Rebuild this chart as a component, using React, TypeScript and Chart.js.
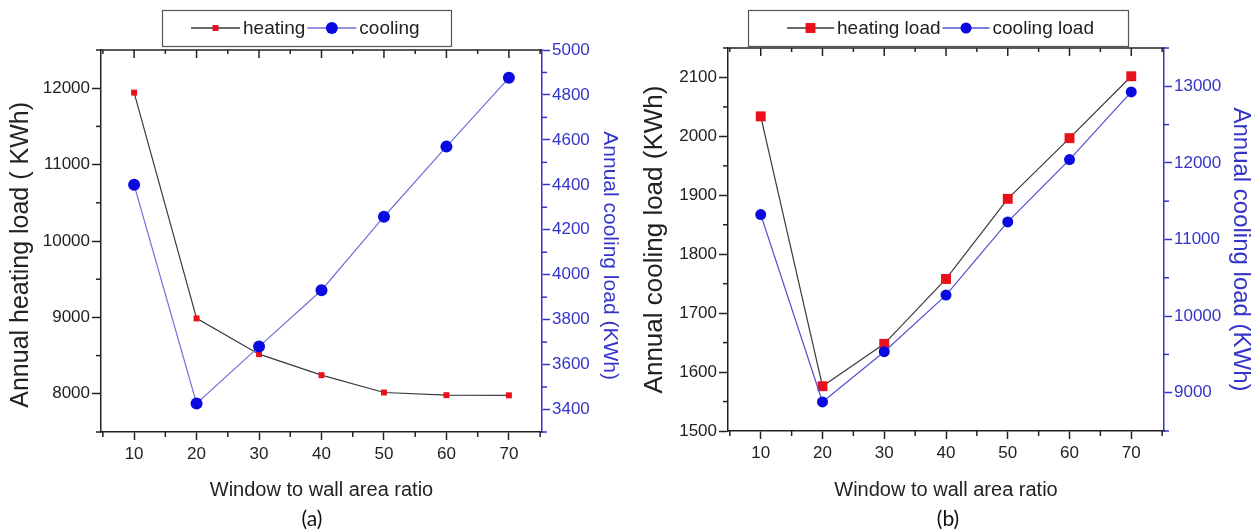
import React, { useEffect, useRef } from 'react';
import { Chart, registerables } from 'chart.js';

Chart.register(...registerables);

// ---------- data ----------
const ratios = [10, 20, 30, 40, 50, 60, 70];

const heatingA = [11942, 8987, 8519, 8244, 8017, 7982, 7980];
const coolingA = [4400, 3427, 3680, 3931, 4258, 4570, 4876];

const heatingB = [2034, 1576, 1648, 1758, 1894, 1997, 2102];
const coolingB = [11326, 8879, 9535, 10274, 11230, 12043, 12926];

const xTicks = [10, 20, 30, 40, 50, 60, 70];
const xMinor = [5, 15, 25, 35, 45, 55, 65, 75];

const leftTicksA = [8000, 9000, 10000, 11000, 12000];
const leftMinorA = [7500, 8500, 9500, 10500, 11500, 12500];
const rightTicksA = [3400, 3600, 3800, 4000, 4200, 4400, 4600, 4800, 5000];
const rightMinorA = [3300, 3500, 3700, 3900, 4100, 4300, 4500, 4700, 4900];

const leftTicksB = [1500, 1600, 1700, 1800, 1900, 2000, 2100];
const leftMinorB = [1550, 1650, 1750, 1850, 1950, 2050, 2150];
const rightTicksB = [9000, 10000, 11000, 12000, 13000];
const rightMinorB = [8500, 9500, 10500, 11500, 12500, 13500];

const FONT = "'Liberation Sans', Arial, Helvetica, sans-serif";
const BLUE_AXIS = '#3434c8';
const DARK = '#222222';

type Panel = {
  heatLabel: string;
  coolLabel: string;
  heat: number[];
  cool: number[];
  leftTitle: string;
  rightTitle: string;
  leftTitleSize: number;
  rightTitleSize: number;
  leftRange: [number, number];
  rightRange: [number, number];
  leftTicks: number[];
  leftMinor: number[];
  rightTicks: number[];
  rightMinor: number[];
  pad: { left: number; right: number; top: number; bottom: number };
  yW: number;
  y2W: number;
  xH: number;
  heatR: number;
  coolR: number;
  coolLine: string;
  legend: { left: number; right: number; top: number; bottom: number; inset: number; lineLen: number };
};

const panels: Panel[] = [
  {
    heatLabel: 'heating',
    coolLabel: 'cooling',
    heat: heatingA,
    cool: coolingA,
    leftTitle: 'Annual heating load ( KWh)    ',
    rightTitle: '     Annual cooling load (KWh)',
    leftTitleSize: 25,
    rightTitleSize: 21,
    leftRange: [7500, 12500],
    rightRange: [3300, 5000],
    leftTicks: leftTicksA,
    leftMinor: leftMinorA,
    rightTicks: rightTicksA,
    rightMinor: rightMinorA,
    pad: { left: 6, right: 8, top: 50, bottom: 29 },
    yW: 95,
    y2W: 80,
    xH: 70,
    heatR: 4.2,
    coolR: 6,
    coolLine: '#7070d8',
    legend: { left: 162, right: 451, top: 10, bottom: 46, inset: 29, lineLen: 49 },
  },
  {
    heatLabel: 'heating load',
    coolLabel: 'cooling load',
    heat: heatingB,
    cool: coolingB,
    leftTitle: 'Annual cooling load (KWh)',
    rightTitle: '   Annual cooling load (KWh)',
    leftTitleSize: 26,
    rightTitleSize: 24,
    leftRange: [1500, 2150],
    rightRange: [8500, 13500],
    leftTicks: leftTicksB,
    leftMinor: leftMinorB,
    rightTicks: rightTicksB,
    rightMinor: rightMinorB,
    pad: { left: 9, right: 5, top: 48, bottom: 29 },
    yW: 89,
    y2W: 91,
    xH: 71,
    heatR: 7,
    coolR: 5.5,
    coolLine: '#5050d0',
    legend: { left: 118, right: 498, top: 10, bottom: 46, inset: 39, lineLen: 47 },
  },
];

// ---------- plugins ----------
const framePlugin = {
  id: 'frame',
  afterDraw(chart: any, _args: any, opts: any) {
    const { ctx, chartArea: ca, scales } = chart;
    const x = scales.x;
    const yl = scales.y;
    const yr = scales.y2;
    ctx.save();
    ctx.lineWidth = 1.5;
    ctx.strokeStyle = DARK;
    const seg = (x1: number, y1: number, x2: number, y2: number) => {
      ctx.beginPath();
      ctx.moveTo(x1, y1);
      ctx.lineTo(x2, y2);
      ctx.stroke();
    };
    // top frame line
    seg(ca.left, ca.top, ca.right, ca.top);
    // top ticks (inward) and minor ticks (outward)
    (opts.xMajor as number[]).forEach((v) => {
      const p = x.getPixelForValue(v);
      seg(p, ca.top, p, ca.top + 8);
    });
    (opts.xMinor as number[]).forEach((v) => {
      const p = x.getPixelForValue(v);
      seg(p, ca.top, p, ca.top + 4);
      seg(p, ca.bottom, p, ca.bottom + 5);
    });
    (opts.leftMinor as number[]).forEach((v) => {
      const p = yl.getPixelForValue(v);
      seg(ca.left, p, ca.left - 5, p);
    });
    ctx.strokeStyle = BLUE_AXIS;
    (opts.rightMinor as number[]).forEach((v) => {
      const p = yr.getPixelForValue(v);
      seg(ca.right, p, ca.right + 5, p);
    });
    ctx.restore();
  },
};

const legendPlugin = {
  id: 'boxLegend',
  afterDraw(chart: any, _args: any, opts: any) {
    const { ctx } = chart;
    const b = opts.box;
    ctx.save();
    ctx.fillStyle = '#ffffff';
    ctx.fillRect(b.left, b.top, b.right - b.left, b.bottom - b.top);
    ctx.strokeStyle = '#555555';
    ctx.lineWidth = 1.2;
    ctx.strokeRect(b.left + 0.5, b.top + 0.5, b.right - b.left, b.bottom - b.top);
    const cy = (b.top + b.bottom) / 2;
    let cx = b.left + b.inset;
    ctx.font = `19px ${FONT}`;
    ctx.textBaseline = 'middle';
    chart.data.datasets.forEach((ds: any) => {
      ctx.strokeStyle = ds.borderColor;
      ctx.lineWidth = 1.3;
      ctx.beginPath();
      ctx.moveTo(cx, cy);
      ctx.lineTo(cx + b.lineLen, cy);
      ctx.stroke();
      const mx = cx + b.lineLen / 2;
      ctx.fillStyle = ds.pointBackgroundColor;
      if (ds.pointStyle === 'rect') {
        const s = ds.pointRadius * Math.SQRT1_2;
        ctx.fillRect(mx - s, cy - s, 2 * s, 2 * s);
      } else {
        ctx.beginPath();
        ctx.arc(mx, cy, ds.pointRadius, 0, Math.PI * 2);
        ctx.fill();
      }
      cx += b.lineLen + 3;
      ctx.fillStyle = DARK;
      ctx.textAlign = 'left';
      ctx.fillText(ds.label, cx, cy + 1);
      cx += ctx.measureText(ds.label).width + 2;
    });
    ctx.restore();
  },
};

function buildConfig(p: Panel): any {
  const setTicks = (arr: number[]) => (scale: any) => {
    scale.ticks = arr.map((v) => ({ value: v }));
  };
  return {
    type: 'line',
    data: {
      labels: ratios,
      datasets: [
        {
          label: p.heatLabel,
          data: ratios.map((r, i) => ({ x: r, y: p.heat[i] })),
          yAxisID: 'y',
          borderColor: '#3a3a3a',
          borderWidth: 1.2,
          pointStyle: 'rect',
          pointRadius: p.heatR,
          pointBackgroundColor: '#e8101a',
          pointBorderColor: '#e8101a',
          pointBorderWidth: 0,
          tension: 0,
          order: 2,
        },
        {
          label: p.coolLabel,
          data: ratios.map((r, i) => ({ x: r, y: p.cool[i] })),
          yAxisID: 'y2',
          borderColor: p.coolLine,
          borderWidth: 1.2,
          pointStyle: 'circle',
          pointRadius: p.coolR,
          pointBackgroundColor: '#0a0ae0',
          pointBorderColor: '#0a0ae0',
          pointBorderWidth: 0,
          tension: 0,
          order: 1,
        },
      ],
    },
    options: {
      responsive: false,
      animation: false,
      devicePixelRatio: 1,
      layout: { padding: p.pad },
      plugins: {
        legend: { display: false },
        tooltip: { enabled: false },
        frame: { xMajor: xTicks, xMinor: xMinor, leftMinor: p.leftMinor, rightMinor: p.rightMinor },
        boxLegend: { box: p.legend },
      },
      scales: {
        x: {
          type: 'linear',
          position: 'bottom',
          min: 4.7,
          max: 75.3,
          afterBuildTicks: setTicks(xTicks),
          afterFit: (s: any) => {
            s.height = p.xH;
          },
          grid: {
            drawOnChartArea: false,
            drawTicks: true,
            tickLength: 8,
            tickColor: DARK,
            tickWidth: 1.5,
          },
          border: { color: DARK, width: 1.5 },
          ticks: {
            color: DARK,
            padding: 4,
            maxRotation: 0,
            font: { family: FONT, size: 17 },
            callback: (v: any) => String(v),
          },
          title: {
            display: true,
            text: 'Window to wall area ratio',
            color: DARK,
            font: { family: FONT, size: 20 },
            padding: { top: 0, bottom: 0 },
          },
        },
        y: {
          type: 'linear',
          position: 'left',
          min: p.leftRange[0],
          max: p.leftRange[1],
          afterBuildTicks: setTicks(p.leftTicks),
          afterFit: (s: any) => {
            s.width = p.yW;
          },
          grid: {
            drawOnChartArea: false,
            drawTicks: true,
            tickLength: 9,
            tickColor: DARK,
            tickWidth: 1.5,
          },
          border: { color: DARK, width: 1.5 },
          ticks: {
            color: DARK,
            padding: 2,
            font: { family: FONT, size: 17 },
            callback: (v: any) => String(v),
          },
          title: {
            display: true,
            text: p.leftTitle,
            color: DARK,
            font: { family: FONT, size: p.leftTitleSize },
            padding: { top: 0, bottom: 0 },
          },
        },
        y2: {
          type: 'linear',
          position: 'right',
          min: p.rightRange[0],
          max: p.rightRange[1],
          afterBuildTicks: setTicks(p.rightTicks),
          afterFit: (s: any) => {
            s.width = p.y2W;
          },
          grid: {
            drawOnChartArea: false,
            drawTicks: true,
            tickLength: 8,
            tickColor: BLUE_AXIS,
            tickWidth: 1.5,
          },
          border: { color: BLUE_AXIS, width: 1.5 },
          ticks: {
            color: BLUE_AXIS,
            padding: 2,
            font: { family: FONT, size: 17 },
            callback: (v: any) => String(v),
          },
          title: {
            display: true,
            text: p.rightTitle,
            color: BLUE_AXIS,
            font: { family: FONT, size: p.rightTitleSize },
            padding: { top: 0, bottom: 0 },
          },
        },
      },
    },
    plugins: [framePlugin, legendPlugin],
  };
}

function PanelChart({ panel, left }: { panel: Panel; left: number }) {
  const ref = useRef<HTMLCanvasElement | null>(null);
  useEffect(() => {
    if (!ref.current) return;
    const chart = new Chart(ref.current, buildConfig(panel));
    return () => chart.destroy();
  }, [panel]);
  return (
    <canvas
      ref={ref}
      width={630}
      height={531}
      style={{ position: 'absolute', left, top: 0, width: 630, height: 531 }}
    />
  );
}

export default function App() {
  const captionStyle: React.CSSProperties = {
    position: 'absolute',
    top: 505,
    width: 60,
    textAlign: 'center',
    fontFamily: "Lato, 'Open Sans', sans-serif",
    fontSize: 21,
    color: '#111',
    lineHeight: '26px',
  };
  return (
    <div
      style={{
        position: 'fixed',
        left: 0,
        top: 0,
        width: 1260,
        height: 531,
        background: '#ffffff',
        overflow: 'hidden',
      }}
    >
      <PanelChart panel={panels[0]} left={0} />
      <PanelChart panel={panels[1]} left={630} />
      <div style={{ ...captionStyle, left: 312 - 30 }}>(a)</div>
      <div style={{ ...captionStyle, left: 948 - 30 }}>(b)</div>
    </div>
  );
}
